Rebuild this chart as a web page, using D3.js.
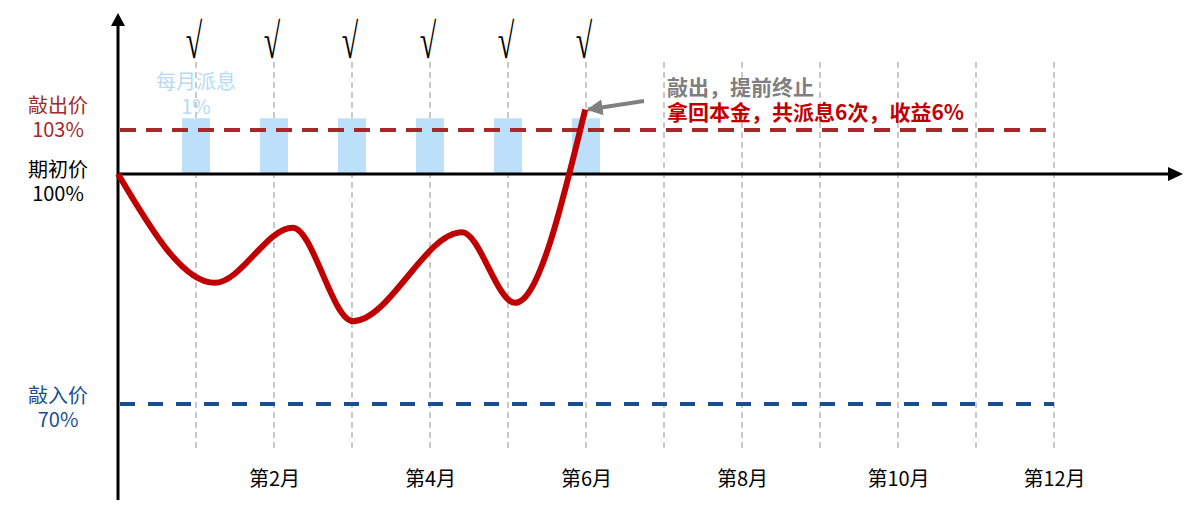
<!DOCTYPE html>
<html><head><meta charset="utf-8">
<script src="https://cdn.jsdelivr.net/npm/d3@7"></script>
<style>body{margin:0;background:#fff;} svg{display:block;}</style>
</head><body><svg id="chart" width="1194" height="528"></svg>
<script>
// ---- data ----
const months = [1,2,3,4,5,6,7,8,9,10,11,12];
const tickMonths = [2,4,6,8,10,12];
const tickLabels = ["第2月","第4月","第6月","第8月","第10月","第12月"];
const couponMonths = [1,2,3,4,5,6];
const couponTop = 103.8;            // schematic top of the 1% coupon bars
const checkMarks = ["√","√","√","√","√","√"];
const levelValues = [103, 100, 70];
const levelNames = ["敲出价","期初价","敲入价"];
const levelTexts = ["103%","100%","70%"];
const pathMonths = [0, 1.24, 2.24, 3.01, 4.41, 5.09, 5.99];
const pathValues = [100, 85.8, 93.0, 80.8, 92.4, 83.2, 104.4];
const couponLabel = ["每月派息","1%"];
const noteLines = ["敲出，提前终止","拿回本金，共派息6次，收益6%"];

// ---- drawing ----
const svg = d3.select("#chart");
const FONT = "'Noto Sans CJK SC','Noto Sans',sans-serif";
const x = d3.scaleLinear().domain([0,12]).range([118,1054]);
const y = d3.scaleLinear().domain([70,100,103]).range([404,174,130]);

const defs = svg.append("defs");
defs.append("marker").attr("id","grayHead").attr("viewBox","0 0 10 10")
  .attr("refX",9).attr("refY",5).attr("markerWidth",4).attr("markerHeight",4)
  .attr("orient","auto").attr("markerUnits","strokeWidth")
  .append("path").attr("d","M0,0L10,5L0,10Z").attr("fill","#808080");

// grid lines
svg.append("g").selectAll("line").data(months).join("line")
  .attr("x1",d=>x(d)).attr("x2",d=>x(d)).attr("y1",62).attr("y2",450)
  .attr("stroke","#c9c9c9").attr("stroke-width",2).attr("stroke-dasharray","6,4");

// coupon bars
svg.append("g").selectAll("rect").data(couponMonths).join("rect")
  .attr("x",d=>x(d)-14).attr("width",28)
  .attr("y",y(couponTop)).attr("height",y(100)-y(couponTop))
  .attr("fill","#bde0fa");

// level dashed lines
svg.append("line").attr("x1",x(0)+2).attr("x2",x(12)).attr("y1",y(103)).attr("y2",y(103))
  .attr("stroke","#a3292b").attr("stroke-width",4).attr("stroke-dasharray","16,10");
svg.append("line").attr("x1",x(0)+2).attr("x2",x(12)).attr("y1",y(70)).attr("y2",y(70))
  .attr("stroke","#1a4f8f").attr("stroke-width",4).attr("stroke-dasharray","15,13");

// axes
svg.append("line").attr("x1",x(0)).attr("x2",1170).attr("y1",y(100)).attr("y2",y(100))
  .attr("stroke","#000").attr("stroke-width",3);
svg.append("path").attr("d",`M1168,${y(100)-7}L1183,${y(100)}L1168,${y(100)+7}Z`).attr("fill","#000");
svg.append("line").attr("x1",x(0)).attr("x2",x(0)).attr("y1",500).attr("y2",24)
  .attr("stroke","#000").attr("stroke-width",3);
svg.append("path").attr("d",`M${x(0)-7},26L${x(0)},13L${x(0)+7},26Z`).attr("fill","#000");

// month labels via axis
const ax = svg.append("g").attr("transform","translate(0,472)")
  .call(d3.axisBottom(x).tickValues(tickMonths).tickFormat((d,i)=>tickLabels[i]).tickSize(0).tickPadding(0));
ax.select(".domain").remove();
ax.selectAll("text").attr("font-family",FONT).attr("font-size",20).attr("fill","#000");

// check marks (tall radical sign)
svg.append("g").selectAll("text").data(couponMonths).join("text")
  .attr("transform",d=>`translate(${x(d)-2},58) scale(1,1.65)`)
  .attr("text-anchor","middle")
  .attr("font-family","'Liberation Serif','DejaVu Serif',serif").attr("font-size",30)
  .text((d,i)=>checkMarks[i]);

// coupon label
const cl = svg.append("text").attr("text-anchor","middle").attr("font-family",FONT)
  .attr("font-size",20).attr("fill","#b5dbf6");
cl.selectAll("tspan").data(couponLabel).join("tspan")
  .attr("x",x(couponMonths[0])).attr("y",(d,i)=>82+i*25).attr("dy","0.35em").text(d=>d);

// left level labels
const levelColors = ["#a3292b","#000","#1a4f8f"];
const levelOffsets = [-12, 7.5, 3.5];
levelValues.forEach((v,i)=>{
  const cy = y(v)+levelOffsets[i];
  const t = svg.append("text").attr("text-anchor","middle")
    .attr("font-family",FONT).attr("font-size",20).attr("fill",levelColors[i]);
  t.append("tspan").attr("x",58).attr("y",cy-12).attr("dy","0.35em").text(levelNames[i]);
  t.append("tspan").attr("x",58).attr("y",cy+12).attr("dy","0.35em").text(levelTexts[i]);
});

// price path
const pts = pathMonths.map((m,i)=>[m,pathValues[i]]);
svg.append("path").datum(pts)
  .attr("d",d3.line().x(d=>x(d[0])).y(d=>y(d[1])).curve(d3.curveMonotoneX))
  .attr("fill","none").attr("stroke","#c00000").attr("stroke-width",6).attr("stroke-linecap","butt");

// annotation
const endPt = pts[pts.length-1];
svg.append("line").attr("x1",644).attr("y1",101).attr("x2",x(endPt[0])+3).attr("y2",y(endPt[1]))
  .attr("stroke","#808080").attr("stroke-width",4).attr("marker-end","url(#grayHead)");
const noteColors = ["#7f7f7f","#c00000"];
const nt = svg.append("text").attr("font-family",FONT).attr("font-size",21).attr("font-weight","bold");
nt.selectAll("tspan").data(noteLines).join("tspan")
  .attr("x",667).attr("y",(d,i)=>88+i*25).attr("dy","0.35em")
  .attr("fill",(d,i)=>noteColors[i]).text(d=>d);
</script>
</body></html>
